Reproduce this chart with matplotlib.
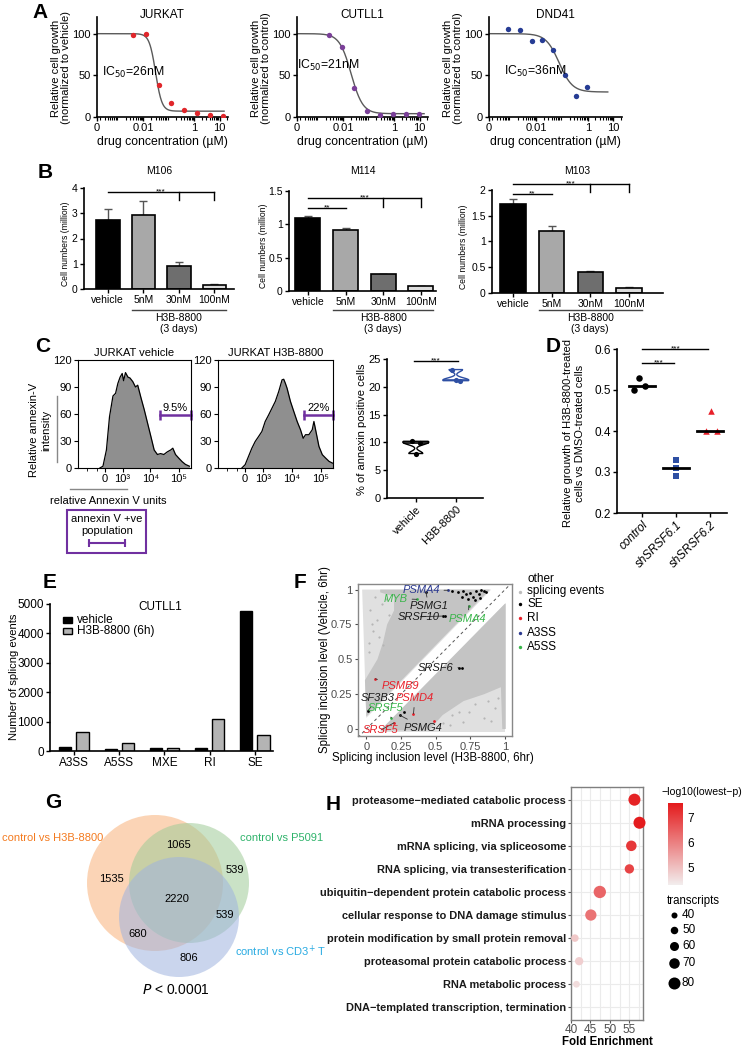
import numpy as np
import matplotlib
matplotlib.use("Agg")
import matplotlib.pyplot as plt
from matplotlib.patches import Circle, Polygon, Rectangle
from matplotlib.colors import LinearSegmentedColormap, Normalize
from matplotlib.cm import ScalarMappable
from matplotlib.ticker import LogLocator, NullFormatter

plt.rcParams['font.family'] = ['Liberation Sans', 'DejaVu Sans']
plt.rcParams['axes.linewidth'] = 1.0

# === Data ===
# A: dose response (drug in uM, % growth) + fitted curve (top, bottom, ic50, hill)
jurkat_conc = [0.004, 0.0126, 0.04, 0.126, 0.4, 1.3, 4.2, 13]
jurkat_growth = [98, 100, 38, 17, 9, 5, 2, 1.6]
cutll1_conc = [0.0028, 0.0085, 0.027, 0.085, 0.27, 0.89, 2.95, 9.3]
cutll1_growth = [99, 84, 35, 7, 2, 4, 4, 4]
dnd41_conc = [0.00079, 0.0024, 0.0066, 0.017, 0.045, 0.129, 0.35, 0.93]
dnd41_growth = [106, 104, 91, 93, 80, 51, 25, 36]
jurkat_fit = (100, 7, 0.03, 3.5)
cutll1_fit = (100, 4, 0.02, 1.9)
dnd41_fit = (100, 30, 0.078, 1.7)

# B: cell numbers (million)
b_groups = ['vehicle', '5nM', '30nM', '100nM']
m106_mean = [2.75, 2.95, 0.9, 0.15]
m106_err = [0.4, 0.55, 0.15, 0.05]
m114_mean = [1.1, 0.92, 0.25, 0.07]
m114_err = [0.02, 0.02, 0.01, 0.005]
m103_mean = [1.73, 1.2, 0.4, 0.1]
m103_err = [0.1, 0.11, 0.02, 0.01]

# C: annexin V histograms (intensity, count)
vehicle_int = [-200, -70, 70, 200, 360, 500, 640, 800, 970, 1100, 1300, 1600, 1900, 2400, 3000,
               3600, 4700, 6100, 8000, 10500, 13700, 17800, 23000, 30000, 40000, 52000, 62000,
               77000, 100000, 132000, 172000, 237000]
vehicle_cnt = [0, 2, 20, 57, 80, 83, 94, 101, 105, 97, 106, 101, 100, 96, 90, 92, 78, 65, 50,
               35, 20, 15, 16, 15, 18, 20, 22, 15, 11, 7, 4, 2]
h3b_int = [-134, 0, 135, 279, 444, 641, 880, 1180, 1580, 2080, 2730, 3590, 4690, 5360, 6120,
           6990, 9140, 11940, 15600, 20360, 25200, 30380, 39650, 51800, 59200, 67600, 88300,
           115300, 150500, 196600, 256800, 293000]
h3b_cnt = [0, 3.7, 12.9, 22, 29.5, 35, 40.6, 51.7, 59, 66.5, 74, 85, 98, 98.6, 94, 88.6, 74,
           62.8, 51.7, 42.5, 33, 37, 37, 42.5, 51.7, 42.5, 24, 14.8, 11, 7.4, 5.5, 4.8]
annexin_vehicle = [10.2, 9.9, 8.0]
annexin_h3b = [23.1, 21.1, 21.3]

# D: relative growth
d_groups = ['control', 'shSRSF6.1', 'shSRSF6.2']
d_control = [0.53, 0.50, 0.51]
d_sh1 = [0.33, 0.31, 0.29]
d_sh2 = [0.45, 0.40, 0.40]

# E: splicing events
e_types = ['A3SS', 'A5SS', 'MXE', 'RI', 'SE']
e_vehicle = [125, 80, 114, 114, 4750]
e_h3b = [648, 273, 114, 1100, 557]

# F: inclusion levels (H3B-8800 x, vehicle y)
se_x = [0.62, 0.66, 0.70, 0.72, 0.75, 0.77, 0.79, 0.81, 0.83, 0.845, 0.86, 0.73, 0.78, 0.69,
        0.82, 0.43, 0.55, 0.57, 0.67, 0.69, 0.01, 0.24, 0.27]
se_y = [0.99, 0.985, 0.99, 0.965, 0.975, 0.95, 0.99, 0.97, 0.995, 0.99, 0.985, 0.935, 0.925,
        0.95, 0.94, 0.98, 0.81, 0.81, 0.44, 0.44, 0.13, 0.10, 0.12]
ri_x = [0.065, 0.34, 0.20, 0.49]
ri_y = [0.36, 0.11, 0.045, 0.06]
a3ss_x = [0.59]
a3ss_y = [0.995]
a5ss_x = [0.365, 0.74, 0.18]
a5ss_y = [0.93, 0.885, 0.08]
other_upper = [(0.0, 0.08), (-0.03, 1.0), (0.9, 1.0)]
other_upper_dense = [(0.0, 0.09), (-0.01, 0.35), (0.08, 0.5), (0.12, 0.62), (0.15, 0.75),
                     (0.2, 0.85), (0.2, 0.95), (0.1, 0.98), (0.1, 1.0), (0.89, 1.0)]
other_lower = [(0.1, -0.02), (1.0, -0.02), (1.0, 0.9)]
other_lower_dense = [(0.1, -0.01), (0.45, -0.01), (0.55, 0.1), (0.7, 0.2), (0.85, 0.25),
                     (0.97, 0.3), (0.98, 0.0), (1.005, 0.0), (1.005, 0.9), (1.0, 0.9)]
other_sparse_x = [0.02, 0.05, 0.08, 0.03, 0.11, 0.06, 0.14, 0.09, 0.02, 0.16, 0.04, 0.12,
                  0.7, 0.85, 0.62, 0.93, 0.78, 0.55, 0.88, 0.67, 0.95, 0.74, 0.6, 0.9]
other_sparse_y = [0.62, 0.7, 0.78, 0.85, 0.9, 0.95, 0.93, 0.66, 0.55, 0.82, 0.75, 0.6,
                  0.05, 0.08, 0.1, 0.15, 0.18, 0.04, 0.2, 0.12, 0.22, 0.12, 0.03, 0.06]

# G: venn counts
venn_labels = ['H3B only', 'P5091 only', 'CD3 only', 'H3B+P5091', 'H3B+CD3', 'P5091+CD3', 'all']
venn_counts = [1535, 539, 806, 1065, 680, 539, 2220]

# H: GO enrichment
go_terms = ['proteasome\u2212mediated catabolic process', 'mRNA processing',
            'mRNA splicing, via spliceosome', 'RNA splicing, via transesterification',
            'ubiquitin\u2212dependent protein catabolic process',
            'cellular response to DNA damage stimulus',
            'protein modification by small protein removal',
            'proteasomal protein catabolic process', 'RNA metabolic process',
            'DNA\u2212templated transcription, termination']
go_fold = [56.3, 57.6, 55.5, 55.0, 47.4, 45.1, 41.0, 42.1, 41.4, 48.4]
go_logp = [7.4, 7.5, 7.1, 6.9, 6.4, 6.2, 4.9, 4.8, 4.6, 4.4]
go_transcripts = [80, 80, 70, 62, 82, 75, 50, 55, 45, 8]
legend_transcripts = [40, 50, 60, 70, 80]

# === Figure helpers ===
W, H = 746, 1050
fig = plt.figure(figsize=(W / 100, H / 100), dpi=100)
ov = fig.add_axes([0, 0, 1, 1])
ov.set_xlim(0, W)
ov.set_ylim(H, 0)
ov.axis('off')
ov.patch.set_visible(False)
ov.set_zorder(10)


def px_axes(x0, y0, x1, y1):
    return fig.add_axes([x0 / W, 1 - y1 / H, (x1 - x0) / W, (y1 - y0) / H])


def T(x, y, s, **kw):
    kw.setdefault('ha', 'center')
    kw.setdefault('va', 'center')
    kw.setdefault('fontsize', 8)
    ov.text(x, y, s, **kw)


def open_spines(ax, lw=1.2):
    ax.spines['top'].set_visible(False)
    ax.spines['right'].set_visible(False)
    ax.spines['left'].set_linewidth(lw)
    ax.spines['bottom'].set_linewidth(lw)


def stars(ax, x, y, lab):
    ax.annotate(lab, (x, y), xytext=(0, -2.5), textcoords='offset points', ha='center',
                va='bottom', fontsize=6, annotation_clip=False)


for letter, x, y in [('A', 40, 12), ('B', 45, 173), ('C', 43, 347), ('D', 553, 347),
                     ('E', 50, 583), ('F', 300, 582), ('G', 53, 802), ('H', 333, 805)]:
    T(x, y, letter, fontsize=15, fontweight='bold')

# === A ===
A_XMIN, A_XMAX = 10 ** -3.83, 10 ** 1.33
a_panels = [
    ('JURKAT', (97, 17, 228, 117), jurkat_conc, jurkat_growth, jurkat_fit, '#e0262b',
     'vehicle', 'IC$_{50}$=26nM', (0.04, 54), 15),
    ('CUTLL1', (297, 17, 428, 117), cutll1_conc, cutll1_growth, cutll1_fit, '#7a3f98',
     'control', 'IC$_{50}$=21nM', (0.0, 62), 15),
    ('DND41', (489, 17, 622, 117), dnd41_conc, dnd41_growth, dnd41_fit, '#263c94',
     'control', 'IC$_{50}$=36nM', (0.11, 55), 6),
]
for name, box, conc, growth, fit, color, norm, ic_txt, ic_pos, xend in a_panels:
    ax = px_axes(*box)
    top, bottom, ic50, hill = fit
    xs = np.logspace(np.log10(A_XMIN), np.log10(xend), 300)
    ax.plot(xs, bottom + (top - bottom) / (1 + (xs / ic50) ** hill), color='#5a5a5a', lw=1)
    ax.scatter(conc, growth, s=15, color=color, zorder=3, linewidths=0)
    ax.set_xscale('log')
    ax.set_xlim(A_XMIN, A_XMAX)
    ax.set_ylim(0, 120)
    ax.set_yticks([0, 50, 100])
    ax.set_xticks([A_XMIN, 0.01, 1, 10], ['0', '0.01', '1', '10'])
    ax.xaxis.set_minor_locator(LogLocator(subs=np.arange(2, 10) * 1.0, numticks=20))
    ax.xaxis.set_minor_formatter(NullFormatter())
    ax.tick_params(labelsize=8, length=3, width=1, pad=1.5)
    ax.tick_params(which='minor', length=2, width=0.8)
    open_spines(ax)
    ax.text(ic_pos[0], ic_pos[1], ic_txt, transform=ax.get_yaxis_transform(), fontsize=8.8,
            ha='left', va='center')
    x0, y0, x1, y1 = box
    T((x0 + x1) / 2, 15, name, fontsize=8.5)
    T(x0 - 36, 68, 'Relative cell growth\n(normalized to %s)' % norm, rotation=90,
      fontsize=8, linespacing=1.1)
    T((x0 + x1) / 2, 142, 'drug concentration (\u00b5M)', fontsize=8.8)

# === B ===
b_colors = ['#000000', '#a8a8a8', '#6e6e6e', '#dcdcdc']
b_panels = [
    ('M106', (84, 188, 234, 289), m106_mean, m106_err, (0, 4), [0, 1, 2, 3, 4], ['0', '1', '2', '3', '4'],
     (-0.67, 3.55), [(0, 3, 3.84, '***', [2, 3], 3.52)], 19),
    ('M114', (289, 191, 436, 291), m114_mean, m114_err, (0, 1.5), [0, 0.5, 1, 1.5], ['0', '0.5', '1', '1.5'],
     (-0.5, 3.4), [(0, 1, 1.245, '**', [], 0), (0, 3, 1.395, '***', [2, 3], 1.26)], 26),
    ('M103', (492, 190, 663, 293), m103_mean, m103_err, (0, 2), [0, 0.5, 1, 1.5, 2], ['0', '0.5', '1', '1.5', '2'],
     (-0.54, 3.88), [(0, 1, 1.92, '**', [], 0), (0, 3, 2.12, '***', [2, 3], 1.96)], 28),
]
for name, box, mean, err, ylim, yt, ytl, xlim, sigs, ylab_off in b_panels:
    ax = px_axes(*box)
    xpos = np.arange(len(b_groups))
    ax.bar(xpos, mean, width=0.66, color=b_colors, edgecolor='black', linewidth=1.2, zorder=2)
    ax.errorbar(xpos, mean, yerr=[np.zeros(len(err)), err], fmt='none', ecolor='#555555',
                elinewidth=1, capsize=3, capthick=1, zorder=1)
    ax.set_ylim(*ylim)
    ax.set_xlim(*xlim)
    ax.set_yticks(yt, ytl)
    ax.set_xticks(xpos, b_groups)
    ax.tick_params(labelsize=7.5, length=3, width=1, pad=1.5)
    open_spines(ax)
    for i, j, yv, lab, drops, ybot in sigs:
        ax.plot([i, j], [yv, yv], color='black', lw=1, clip_on=False)
        for d in drops:
            ax.plot([d, d], [yv, ybot], color='black', lw=1, clip_on=False)
        stars(ax, (i + j) / 2, yv, lab)
    x0, y0, x1, y1 = box
    tr = ax.get_xaxis_transform()
    yfrac = lambda py: (y1 - py) / (y1 - y0)
    ax.plot([0.67, 3.33], [yfrac(310), yfrac(310)], transform=tr, color='#444444', lw=1,
            clip_on=False)
    ax.text(2, yfrac(318), 'H3B-8800', transform=tr, ha='center', va='center', fontsize=7.5)
    ax.text(2, yfrac(329), '(3 days)', transform=tr, ha='center', va='center', fontsize=7.5)
    T((x0 + x1) / 2, 171, name, fontsize=7.5)
    T(x0 - ylab_off, (y0 + y1) / 2 + 5, 'Cell numbers (million)', rotation=90, fontsize=6.2)

# === C histograms ===
C_XLIM = (-2140, 270000)
purple = '#7030a0'
c_panels = [('JURKAT vehicle', (78, 360, 191, 468), vehicle_int, vehicle_cnt, 22100, '9.5%', 77000),
            ('JURKAT H3B-8800', (218, 360, 333, 468), h3b_int, h3b_cnt, 26600, '22%', 88000)]
for title, box, xi, cnt, gate0, pct, pct_x in c_panels:
    ax = px_axes(*box)
    ax.set_xscale('asinh', linear_width=500)
    ax.fill_between(xi, cnt, color='#8f8f8f', lw=0)
    ax.plot(xi, cnt, color='black', lw=0.9)
    ax.plot([gate0, C_XLIM[1]], [59, 59], color=purple, lw=1.8, clip_on=False,
            marker='|', markersize=7, markeredgewidth=1.8)
    ax.text(pct_x, 61, pct, ha='center', va='bottom', fontsize=8)
    ax.set_xlim(*C_XLIM)
    ax.set_ylim(0, 120)
    ax.set_yticks([0, 30, 60, 90, 120])
    ax.set_xticks([0, 1000, 10000, 100000], ['0', '10\u00b3', '10\u2074', '10\u2075'])
    ax.set_xticks([-1000, -350], minor=True)
    ax.tick_params(labelsize=8, length=3, width=0.8, pad=1.5)
    ax.tick_params(which='minor', length=2)
    for s in ax.spines.values():
        s.set_linewidth(0.8)
    x0, y0, x1, y1 = box
    T((x0 + x1) / 2, 353, title, fontsize=8)

T(40, 430, 'Relative annexin-V\nintensity', rotation=90, fontsize=8, linespacing=1.2)
ov.plot([57, 57], [396, 462], color='#888888', lw=1)
ov.plot([70, 127], [489, 489], color='#888888', lw=1)
T(108, 501, 'relative Annexin V units', fontsize=8)
ov.add_patch(Rectangle((67, 510), 79, 43, fill=False, edgecolor=purple, lw=1.5))
T(107, 525, 'annexin V +ve\npopulation', fontsize=8, linespacing=1.2)
ov.plot([89, 125], [543, 543], color=purple, lw=1.5, marker='|', markersize=6,
        markeredgewidth=1.5)

# === C violin ===
ax = px_axes(387, 359, 483, 498)
for k, (vals, col) in enumerate([(annexin_vehicle, 'black'), (annexin_h3b, '#2e4fa3')]):
    vp = ax.violinplot([vals], positions=[k], widths=0.65, showextrema=False, bw_method=0.35)
    for b in vp['bodies']:
        b.set_facecolor('none')
        b.set_edgecolor(col)
        b.set_linewidth(1)
        b.set_alpha(1)
    ax.plot([k - 0.3, k + 0.3], [np.median(vals)] * 2, color=col, lw=1.2)
    ax.scatter([k - 0.1, k + 0.1, k][:len(vals)], vals, s=14, color=col, zorder=3, linewidths=0)
ax.plot([-0.05, 1.05], [24.7, 24.7], color='black', lw=1, clip_on=False)
stars(ax, 0.5, 24.7, '***')
ax.set_xlim(-0.72, 1.68)
ax.set_ylim(0, 25)
ax.set_yticks([0, 5, 10, 15, 20, 25])
ax.set_xticks([0, 1], ['vehicle', 'H3B-8800'], rotation=45, ha='right', rotation_mode='anchor')
ax.tick_params(labelsize=8, length=3, width=1, pad=1.5)
open_spines(ax)
T(362, 429, '% of annexin positive cells', rotation=90, fontsize=8)

# === D ===
ax = px_axes(617, 349, 727, 513)
d_sets = [(d_control, 'o', 'black', [-0.08, -0.23, 0.08]),
          (d_sh1, 's', '#2e4fa3', [0, 0, 0]),
          (d_sh2, '^', '#e8202a', [0.03, -0.12, 0.2])]
for k, (vals, mk, col, jit) in enumerate(d_sets):
    ax.scatter(k + np.array(jit), vals, marker=mk, s=22, color=col, zorder=3, linewidths=0)
    ax.plot([k - 0.38, k + 0.38], [np.median(vals)] * 2, color='black', lw=2, zorder=4)
ax.plot([0, 0.95], [0.566, 0.566], color='black', lw=1)
stars(ax, 0.48, 0.566, '***')
ax.plot([0, 1.95], [0.6, 0.6], color='black', lw=1, clip_on=False)
stars(ax, 0.98, 0.6, '***')
ax.set_xlim(-0.74, 2.5)
ax.set_ylim(0.2, 0.6)
ax.set_yticks([0.2, 0.3, 0.4, 0.5, 0.6])
ax.set_xticks([0, 1, 2], d_groups, rotation=45, ha='right', rotation_mode='anchor',
              style='italic')
ax.tick_params(labelsize=8.5, length=3, width=1, pad=1.5)
open_spines(ax)
T(574, 433, 'Relative grouwth of H3B-8800-treated\ncells vs DMSO-treated cells', rotation=90,
  fontsize=8, linespacing=1.15)

# === E ===
ax = px_axes(50, 604, 273, 751)
xe = np.arange(len(e_types))
ax.bar(xe - 0.19, e_vehicle, width=0.27, color='black', edgecolor='black', lw=1)
ax.bar(xe + 0.19, e_h3b, width=0.27, color='#b4b4b4', edgecolor='black', lw=1)
ax.set_xlim(-0.53, 4.4)
ax.set_ylim(0, 5000)
ax.set_yticks(range(0, 5001, 1000))
ax.set_xticks(xe, e_types)
ax.tick_params(labelsize=8.5, length=3, width=1, pad=1.5)
open_spines(ax)
T(14, 677, 'Number of splicng events', rotation=90, fontsize=8)
T(160, 607, 'CUTLL1', fontsize=8.5)
ov.add_patch(Rectangle((63, 617), 9, 6, facecolor='black', edgecolor='black', lw=1))
ov.add_patch(Rectangle((63, 628), 9, 6, facecolor='#b4b4b4', edgecolor='black', lw=1))
T(77, 620, 'vehicle', ha='left', fontsize=8.5)
T(77, 631, 'H3B-8800 (6h)', ha='left', fontsize=8.5)

# === F ===
ax = px_axes(358, 584, 512, 736)
ax.add_patch(Polygon(other_upper, closed=True, facecolor='#e0e0e0', edgecolor='none'))
ax.add_patch(Polygon(other_lower, closed=True, facecolor='#e0e0e0', edgecolor='none'))
ax.add_patch(Polygon(other_upper_dense, closed=True, facecolor='#c4c4c4', edgecolor='none'))
ax.add_patch(Polygon(other_lower_dense, closed=True, facecolor='#c4c4c4', edgecolor='none'))
ax.scatter(other_sparse_x, other_sparse_y, s=2.5, color='#b5b5b5', linewidths=0)
ax.plot([-0.06, 1.05], [-0.06, 1.05], color='#555555', lw=0.7, ls=(0, (3, 3)))
ax.scatter(se_x, se_y, s=4, color='black', linewidths=0, zorder=3)
ax.scatter(ri_x, ri_y, s=4, color='#e8202a', linewidths=0, zorder=3)
ax.scatter(a3ss_x, a3ss_y, s=4, color='#2b3990', linewidths=0, zorder=3)
ax.scatter(a5ss_x, a5ss_y, s=4, color='#39b54a', linewidths=0, zorder=3)
f_labels = [('PSMA4', '#2b3990', (0.59, 0.995), (0.53, 0.995), 'right'),
            ('MYB', '#39b54a', (0.365, 0.93), (0.30, 0.935), 'right'),
            ('PSMG1', '#1a1a1a', (0.43, 0.98), (0.45, 0.88), 'center'),
            ('SRSF10', '#1a1a1a', (0.55, 0.81), (0.53, 0.805), 'right'),
            ('PSMA4', '#39b54a', (0.74, 0.885), (0.73, 0.79), 'center'),
            ('SRSF6', '#1a1a1a', (0.67, 0.44), (0.63, 0.44), 'right'),
            ('PSMB9', '#e8202a', (0.065, 0.36), (0.11, 0.31), 'left'),
            ('SF3B3', '#1a1a1a', (0.01, 0.13), (0.085, 0.22), 'center'),
            ('PSMD4', '#e8202a', (0.34, 0.11), (0.35, 0.22), 'center'),
            ('SRSF5', '#39b54a', (0.18, 0.08), (0.14, 0.15), 'center'),
            ('SRSF5', '#e8202a', (0.20, 0.045), (0.1, -0.01), 'center'),
            ('PSMG4', '#1a1a1a', (0.24, 0.10), (0.41, 0.01), 'center')]
for lab, col, pt, tp, ha in f_labels:
    ax.annotate(lab, xy=pt, xytext=tp, ha=ha, va='center', fontsize=8, style='italic',
                color=col, arrowprops=dict(arrowstyle='-', color='#333333', lw=0.6,
                                           shrinkA=1, shrinkB=0), zorder=4)
ax.set_xlim(-0.06, 1.05)
ax.set_ylim(-0.05, 1.04)
ticks = [0, 0.25, 0.5, 0.75, 1]
ax.set_xticks(ticks, ['0', '0.25', '0.5', '0.75', '1'])
ax.set_yticks(ticks, ['0', '0.25', '0.5', '0.75', '1'])
ax.tick_params(labelsize=8, length=2.5, width=0.8, colors='#4d4d4d', pad=1.5)
for s in ax.spines.values():
    s.set_color('#888888')
    s.set_linewidth(1)
T(433, 758, 'Splicing inclusion level (H3B-8800, 6hr)', fontsize=8.3)
T(325, 660, 'Splicing inclusion level (Vehicle, 6hr)', rotation=90, fontsize=8.3)
T(527, 579, 'other', ha='left', fontsize=8.5)
T(527, 591, 'splicing events', ha='left', fontsize=8.5)
for yy, lab, col in [(592, None, '#bdbdbd'), (604, 'SE', 'black'), (618, 'RI', '#e8202a'),
                     (633, 'A3SS', '#2b3990'), (647, 'A5SS', '#39b54a')]:
    ov.scatter([520], [yy], s=6, color=col, linewidths=0)
    if lab:
        T(527, yy, lab, ha='left', fontsize=8.5)

# === G ===
venn_circles = [((155, 883), 68, '#f9b27a'), ((189, 883), 60, '#9fcb97'), ((179, 917), 60, '#9fb3df')]
for c, r, col in venn_circles:
    ov.add_patch(Circle(c, r, facecolor=col, edgecolor='none', alpha=0.55))
venn_pos = [(111, 879), (235, 870), (189, 958), (178, 845), (138, 934), (225, 915), (177, 899)]
for (x, y), n in zip(venn_pos, venn_counts):
    T(x, y, str(n), fontsize=8)
T(2, 838, 'control vs H3B-8800', ha='left', color='#f47b20', fontsize=8)
T(240, 838, 'control vs P5091', ha='left', color='#2fb36b', fontsize=8)
T(235, 951, 'control vs CD3$^{+}$ T', ha='left', color='#29abe2', fontsize=8)
T(176, 990, '$P$ < 0.0001', fontsize=10)

# === H ===
ax = px_axes(571, 787, 643, 1020)
cmap = LinearSegmentedColormap.from_list('gr', ['#f2eded', '#e41a1c'])
norm = Normalize(4.33, 7.55)
size_of = lambda t: (np.asarray(t) / 80.0) ** 2 * 75
rows = np.arange(1, len(go_terms) + 1)
ax.set_axisbelow(True)
ax.scatter(go_fold, rows, s=size_of(go_transcripts), c=go_logp, cmap=cmap, norm=norm,
           linewidths=0, zorder=3, clip_on=False)
ax.set_xlim(40, 58.5)
ax.set_ylim(len(go_terms) + 0.55, 0.45)
ax.set_xticks([40, 45, 50, 55])
ax.set_xticks([42.5, 47.5, 52.5, 57.5], minor=True)
ax.set_yticks(rows, go_terms, fontweight='bold')
ax.grid(True, which='both', color='#ebebeb', lw=0.8)
ax.tick_params(axis='y', labelsize=7.9, length=2, color='#555555', pad=1.5,
               labelcolor='#1a1a1a')
ax.tick_params(axis='x', labelsize=8.5, length=2, color='#555555', labelcolor='#4d4d4d',
               pad=1)
ax.tick_params(which='minor', length=0)
for s in ax.spines.values():
    s.set_color('#7f7f7f')
    s.set_linewidth(1)
T(607, 1042, 'Fold Enrichment', fontweight='bold', fontsize=8.3)

cax = px_axes(668, 803, 683, 885)
cb = fig.colorbar(ScalarMappable(norm=norm, cmap=cmap), cax=cax, ticks=[5, 6, 7])
cb.outline.set_visible(False)
cax.tick_params(labelsize=8.5, length=0, pad=3)
T(661, 792, '\u2212log10(lowest\u2212p)', ha='left', fontsize=7.6)
T(667, 901, 'transcripts', ha='left', fontsize=8.3)
for yy, t in zip([915, 930, 946, 963, 983], legend_transcripts):
    ov.scatter([674], [yy], s=size_of(t), color='black', linewidths=0)
    T(682, yy, str(t), ha='left', fontsize=8.5)

fig.savefig('out.png', dpi=100)
